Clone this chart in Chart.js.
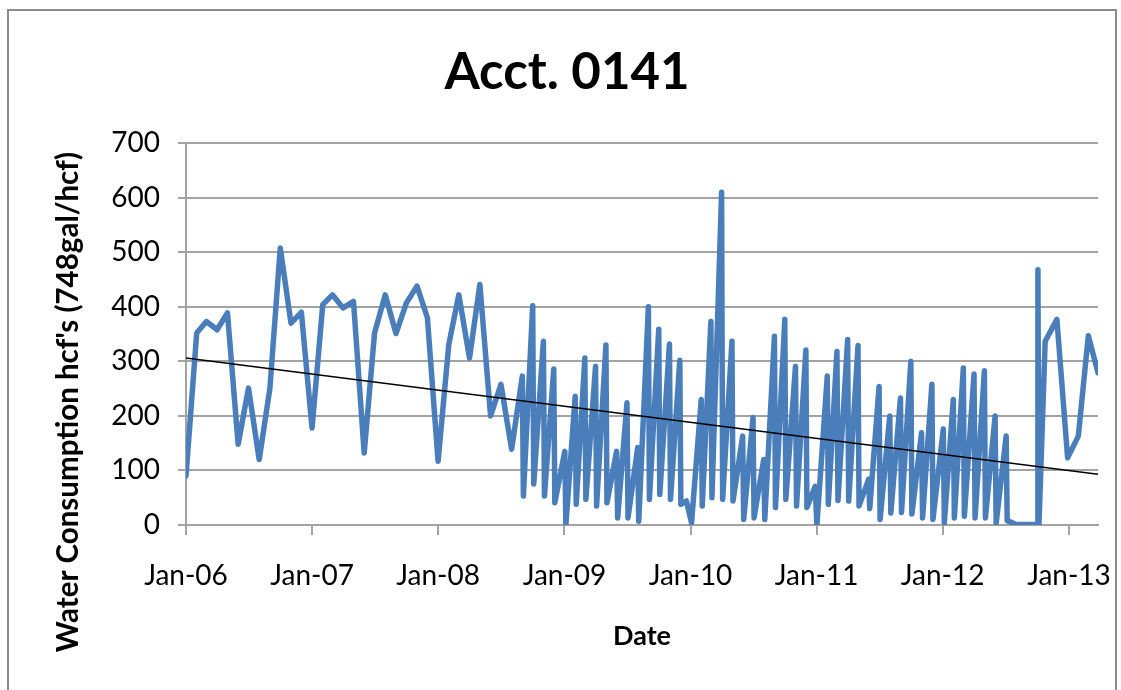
<!DOCTYPE html>
<html>
<head>
<meta charset="utf-8">
<script src="https://cdn.jsdelivr.net/npm/chart.js@4.4.0/dist/chart.umd.min.js"></script>
<style>
  html, body { margin: 0; padding: 0; background: #fff; }
  #wrap { position: relative; width: 1121px; height: 690px; overflow: hidden; }
  #frame { position: absolute; left: 7px; top: 9px; width: 1110px; height: 720px; border: 2px solid #8c8c8c; box-sizing: border-box; }
  canvas { position: absolute; left: 0; top: 0; }
</style>
</head>
<body>
<div id="wrap">
  <div id="frame"></div>
  <canvas id="waterChart" width="1121" height="690"></canvas>
</div>
<script>
// Meter readings (date of reading) and consumption in hcf
const readDates = [
    '2006-01-01', '2006-02-01', '2006-03-01', '2006-04-01', '2006-05-01', '2006-06-01',
    '2006-07-01', '2006-08-01', '2006-09-01', '2006-10-01', '2006-11-01', '2006-12-01',
    '2007-01-01', '2007-02-01', '2007-03-01', '2007-04-01', '2007-05-01', '2007-06-01',
    '2007-07-01', '2007-08-01', '2007-09-01', '2007-10-01', '2007-11-01', '2007-12-01',
    '2008-01-01', '2008-02-01', '2008-03-01', '2008-04-01', '2008-05-01', '2008-06-01',
    '2008-07-01', '2008-08-01',
    '2008-09-01', '2008-09-04', '2008-10-01', '2008-10-04', '2008-11-01', '2008-11-04',
    '2008-12-01', '2008-12-04',
    '2009-01-02', '2009-01-05', '2009-02-01', '2009-02-04', '2009-03-01', '2009-03-04',
    '2009-04-01', '2009-04-04', '2009-05-01', '2009-05-04', '2009-06-01', '2009-06-04',
    '2009-07-01', '2009-07-04', '2009-08-01', '2009-08-04', '2009-09-01', '2009-09-04',
    '2009-10-01', '2009-10-04', '2009-11-01', '2009-11-04', '2009-12-01', '2009-12-04',
    '2009-12-20',
    '2010-01-04', '2010-02-01', '2010-02-04', '2010-03-01', '2010-03-04', '2010-04-01',
    '2010-04-04', '2010-05-01', '2010-05-04', '2010-06-01', '2010-06-04', '2010-07-01',
    '2010-07-04', '2010-08-01', '2010-08-04', '2010-09-01', '2010-09-04', '2010-10-01',
    '2010-10-04', '2010-11-01', '2010-11-04', '2010-12-01', '2010-12-04', '2010-12-28',
    '2011-01-02', '2011-02-01', '2011-02-04', '2011-03-01', '2011-03-04', '2011-04-01',
    '2011-04-04', '2011-05-01', '2011-05-04', '2011-06-01', '2011-06-04', '2011-07-01',
    '2011-07-04', '2011-08-01', '2011-08-04', '2011-09-01', '2011-09-04', '2011-10-01',
    '2011-10-04', '2011-11-01', '2011-11-04', '2011-12-01', '2011-12-04',
    '2012-01-03', '2012-01-06', '2012-02-01', '2012-02-04', '2012-03-01', '2012-03-04',
    '2012-04-01', '2012-04-04', '2012-05-01', '2012-05-04', '2012-06-01', '2012-06-04',
    '2012-07-03', '2012-07-06', '2012-08-01', '2012-09-01', '2012-10-01', '2012-10-03',
    '2012-10-06', '2012-10-24', '2012-11-27', '2012-12-28',
    '2013-01-28', '2013-02-26', '2013-03-26'
];

const consumption = [
    90, 352, 373, 358, 389, 148,
    251, 120, 251, 508, 370, 390,
    178, 404, 422, 398, 410, 132,
    352, 422, 351, 407, 438, 380,
    117, 331, 422, 306, 441, 200,
    258, 139,
    273, 53, 402, 75, 337, 53,
    286, 41,
    135, 0, 236, 38, 306, 47,
    291, 35, 330, 41, 135, 13,
    224, 13, 142, 7, 400, 47,
    359, 56, 332, 47, 302, 38,
    44,
    4, 230, 35, 373, 50, 610,
    47, 337, 44, 163, 10, 197,
    13, 120, 10, 346, 32, 377,
    47, 291, 35, 321, 32, 71,
    0, 273, 38, 318, 45, 340,
    44, 329, 35, 84, 30, 254,
    10, 200, 22, 233, 23, 300,
    20, 169, 13, 258, 10,
    176, 4, 230, 13, 288, 16,
    277, 13, 283, 13, 200, 3,
    163, 8, 1, 1, 1, 468,
    0, 337, 377, 123,
    163, 347, 279
];

// Linear trendline end points
const trendDates = ['2006-01-01', '2013-03-26'];
const trendValues = [306, 93];

// Axis ticks
const tickDates = ['2006-01-01', '2007-01-01', '2008-01-01', '2009-01-01',
                   '2010-01-01', '2011-01-01', '2012-01-01', '2013-01-01'];
const tickLabels = ['Jan-06', 'Jan-07', 'Jan-08', 'Jan-09', 'Jan-10', 'Jan-11', 'Jan-12', 'Jan-13'];

const chartTitle = 'Acct. 0141';
const xTitle = 'Date';
const yTitle = "Water Consumption hcf's (748gal/hcf)";

const startDay = Date.UTC(2006, 0, 1);
function dayOf(s) {
    const [y, m, d] = s.split('-').map(Number);
    return (Date.UTC(y, m - 1, d) - startDay) / 86400000;
}

const usagePoints = readDates.map((d, i) => ({ x: dayOf(d), y: consumption[i] }));
const trendPoints = trendDates.map((d, i) => ({ x: dayOf(d), y: trendValues[i] }));

const gridGray = '#a3a3a3';

// rotated y axis title, placed like the original (offset below the plot centre)
const yTitlePlugin = {
    id: 'yTitle',
    afterDraw(chart) {
        const ctx = chart.ctx;
        ctx.save();
        ctx.translate(68, 402);
        ctx.rotate(-Math.PI / 2);
        ctx.font = 'bold 29.5px Lato';
        ctx.fillStyle = '#000';
        ctx.textAlign = 'center';
        ctx.textBaseline = 'middle';
        ctx.fillText(yTitle, 0, 0);
        ctx.restore();
    }
};

const ctx = document.getElementById('waterChart').getContext('2d');
const waterChart = new Chart(ctx, {
    type: 'line',
    data: {
        datasets: [{
            label: 'Trend',
            data: trendPoints,
            borderColor: '#000000',
            borderWidth: 1.5,
            pointRadius: 0,
            order: 0
        }, {
            label: 'Consumption',
            data: usagePoints,
            borderColor: '#4a7ebb',
            borderWidth: 5.5,
            borderJoinStyle: 'round',
            borderCapStyle: 'round',
            pointRadius: 0,
            tension: 0,
            order: 1
        }]
    },
    options: {
        responsive: false,
        animation: false,
        layout: {
            padding: { left: 36, right: 23, top: 0, bottom: 0 }
        },
        plugins: {
            legend: { display: false },
            tooltip: { enabled: false },
            title: {
                display: true,
                text: chartTitle,
                color: '#000',
                font: { family: 'Lato', size: 51, weight: 'bold' },
                padding: { top: 42, bottom: 40 }
            }
        },
        scales: {
            x: {
                type: 'linear',
                min: 0,
                max: dayOf(readDates[readDates.length - 1]),
                afterBuildTicks: scale => {
                    scale.ticks = tickDates.map(d => ({ value: dayOf(d) }));
                },
                afterFit: scale => {
                    scale.height = 165;
                    scale.paddingLeft = 0;
                    scale.paddingRight = 0;
                },
                ticks: {
                    autoSkip: false,
                    maxRotation: 0,
                    color: '#000',
                    padding: 24,
                    font: { family: 'Lato', size: 28 },
                    callback: (value, index) => tickLabels[index]
                },
                grid: {
                    drawOnChartArea: false,
                    drawTicks: true,
                    tickLength: 10,
                    color: gridGray,
                    lineWidth: 2
                },
                border: { display: true, color: gridGray, width: 2 },
                title: {
                    display: true,
                    text: xTitle,
                    color: '#000',
                    font: { family: 'Lato', size: 27, weight: 'bold' },
                    padding: { top: 0, bottom: 38 }
                }
            },
            y: {
                min: 0,
                max: 700,
                afterFit: scale => {
                    scale.width = 150;
                },
                ticks: {
                    stepSize: 100,
                    color: '#000',
                    padding: 18,
                    font: { family: 'Lato', size: 28 }
                },
                grid: {
                    color: gridGray,
                    lineWidth: 2,
                    tickLength: 8
                },
                border: { display: true, color: gridGray, width: 2 }
            }
        }
    },
    plugins: [yTitlePlugin]
});
</script>
</body>
</html>
